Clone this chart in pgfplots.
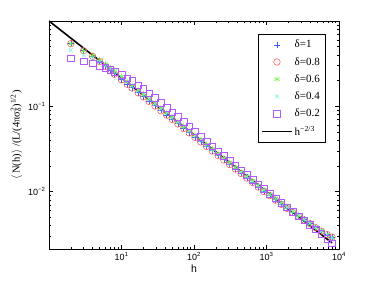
\documentclass[border=0pt]{standalone}
\usepackage{pgfplots}
\pgfplotsset{compat=1.18}
\usepackage{pgfplotstable}
\usepackage{fontspec}
\setmainfont{Liberation Sans}
\newfontfamily\serif{Liberation Serif}
\definecolor{cone}{rgb}{0.25,0.35,1}
\definecolor{ctwo}{rgb}{1,0.3,0.3}
\definecolor{cthree}{rgb}{0.45,0.95,0.2}
\definecolor{cfour}{rgb}{0.45,0.95,0.85}
\definecolor{cfive}{rgb}{0.7,0.35,1}

\pgfplotstableread{
h d1 d08 d06 d04 d02
2 0.548 0.542 0.542 0.454 0.365
3 0.452 0.447 0.447 0.399 0.336
4 0.389 0.385 0.393 0.365 0.318
5 0.339 0.335 0.349 0.332 0.301
6 0.300 0.294 0.312 0.303 0.282
7 0.268 0.262 0.284 0.276 0.268
8 0.2425 0.2375 0.260 0.2525 0.255
10 0.2068 0.2046 0.2240 0.2176 0.2326
12 0.1832 0.1813 0.1965 0.1927 0.2137
14 0.1652 0.1635 0.1773 0.1738 0.1979
17 0.1452 0.1436 0.1557 0.1527 0.1769
20 0.1303 0.1289 0.1398 0.1371 0.1601
24 0.1154 0.1142 0.1238 0.1214 0.1418
29 0.1017 0.1006 0.1080 0.1070 0.1250
35 0.08972 0.08879 0.09533 0.09346 0.1103
42 0.07948 0.07865 0.08445 0.08279 0.09686
50 0.07073 0.07000 0.07515 0.07368 0.08547
60 0.06265 0.06200 0.06657 0.06526 0.07505
72 0.05548 0.05490 0.05837 0.05779 0.06588
86 0.04928 0.04876 0.05184 0.05133 0.05800
103 0.04369 0.04323 0.04597 0.04551 0.05097
124 0.03861 0.03821 0.04062 0.04022 0.04424
149 0.03416 0.03380 0.03558 0.03522 0.03878
179 0.03022 0.02991 0.03148 0.03117 0.03400
215 0.02675 0.02647 0.02786 0.02758 0.02981
258 0.02369 0.02345 0.02468 0.02443 0.02616
310 0.02097 0.02075 0.02184 0.02162 0.02293
372 0.01857 0.01837 0.01915 0.01915 0.02011
446 0.01645 0.01628 0.01697 0.01697 0.01774
535 0.01456 0.01441 0.01502 0.01502 0.01563
642 0.01290 0.01277 0.01331 0.01331 0.01378
770 0.01143 0.01131 0.01179 0.01179 0.01215
924 0.01012 0.01001 0.01043 0.01043 0.01070
1109 0.009053 0.008960 0.009240 0.009240 0.009426
1331 0.008016 0.007933 0.008264 0.008264 0.008347
1597 0.007172 0.007098 0.007318 0.007318 0.007391
1916 0.006416 0.006351 0.006546 0.006546 0.006546
2300 0.005739 0.005682 0.005854 0.005854 0.005796
2760 0.005184 0.005133 0.005234 0.005234 0.005133
3312 0.004680 0.004635 0.004725 0.004680 0.004590
3974 0.004224 0.004184 0.004224 0.004224 0.004065
4769 0.003811 0.003776 0.003811 0.003811 0.003600
5723 0.003469 0.003438 0.003469 0.003438 0.003188
6867 0.003154 0.003127 0.003127 0.003099 0.002795
8000 0.002950 0.002925 0.002900 0.002875 0.002475
}\data

\begin{document}
\begin{tikzpicture}
\begin{axis}[
  xmode=log, ymode=log,
  scale only axis, width=290pt, height=228pt,
  xmin=1, xmax=10000, ymin=0.00212, ymax=1,
  xtick={10,100,1000,10000},
  xticklabels={10\textsuperscript{1},10\textsuperscript{2},10\textsuperscript{3},10\textsuperscript{4}},
  ytick={0.01,0.1},
  yticklabels={10\textsuperscript{−2},10\textsuperscript{−1}},
  minor xtick={2,3,4,5,6,7,8,9,20,30,40,50,60,70,80,90,200,300,400,500,600,700,800,900,2000,3000,4000,5000,6000,7000,8000,9000},
  minor ytick={0.003,0.004,0.005,0.006,0.007,0.008,0.009,0.02,0.03,0.04,0.05,0.06,0.07,0.08,0.09,0.2,0.3,0.4,0.5,0.6,0.7,0.8,0.9},
  tick align=inside,
  major tick length=4pt, minor tick length=2pt,
  tick style={black, line width=0.4pt},
  axis line style={line width=0.6pt},
  ticklabel style={font=\fontsize{9}{10}\selectfont},
  xlabel={h},
  xlabel style={font=\fontsize{10.5}{12}\selectfont, yshift=3pt},
  ylabel={{\serif $\langle$\,N(h)$\rangle$ /(L/(4πσ\rlap{\textsubscript{δ}}\textsuperscript{2})\textsuperscript{1/2})}},
  ylabel style={font=\fontsize{10.5}{12}\selectfont, yshift=-1pt},
  legend style={at={(0.952,0.943)}, anchor=north east,
     font=\serif\fontsize{11}{12}\selectfont, row sep=4pt, inner xsep=3pt, inner ysep=4pt},
  legend cell align=left,
  legend image code/.code={\draw[mark repeat=2,mark phase=2,#1] plot coordinates {(0pt,0pt) (15pt,0pt) (30pt,0pt)};},
]
\addplot[only marks, mark=+, mark size=3.2pt, color=cone, line width=0.5pt] table[x=h,y=d1]{\data};
\addlegendentry{δ=1}
\addplot[only marks, mark=o, mark size=3.3pt, color=ctwo, line width=0.5pt] table[x=h,y=d08]{\data};
\addlegendentry{δ=0.8}
\addplot[only marks, mark=asterisk, mark size=3.2pt, color=cthree, line width=0.5pt] table[x=h,y=d06]{\data};
\addlegendentry{δ=0.6}
\addplot[only marks, mark=x, mark size=2.7pt, color=cfour, line width=0.5pt] table[x=h,y=d04]{\data};
\addlegendentry{δ=0.4}
\addplot[only marks, mark=square, mark size=3.3pt, color=cfive, line width=0.5pt] table[x=h,y=d02]{\data};
\addlegendentry{δ=0.2}
\addplot[black, line width=1.6pt] coordinates {(1,1) (8000,0.0025)};
\addlegendentry{h\textsuperscript{−2/3}}
\end{axis}
\path ([xshift=-49pt,yshift=-32pt]current axis.south west) rectangle ([xshift=35pt,yshift=21pt]current axis.north east);
\end{tikzpicture}
\end{document}
